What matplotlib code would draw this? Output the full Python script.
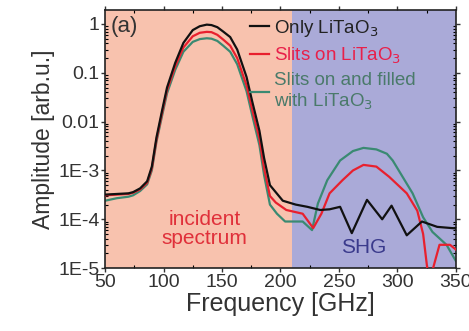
import numpy as np
import matplotlib.pyplot as plt
from matplotlib.ticker import FixedLocator, LogLocator, NullFormatter

plt.rcParams['font.family'] = ['Liberation Sans', 'DejaVu Sans']

# data
f_black = [50, 60, 70, 74, 80, 86, 90, 94, 99, 103, 110, 117, 125, 131, 137, 141, 146, 151, 157, 163,
           171, 176, 182, 186, 191, 202, 213, 223, 234, 242, 251, 261, 274, 287, 295, 308, 321, 334, 350]
a_black = [3.2e-4, 3.3e-4, 3.4e-4, 3.6e-4, 4.3e-4, 6e-4, 1.2e-3, 4.8e-3, 0.018, 0.05, 0.16, 0.41, 0.75,
           0.9, 0.97, 0.95, 0.86, 0.7, 0.54, 0.3, 0.082, 0.025, 0.0065, 1.8e-3, 5e-4, 2.4e-4, 2e-4,
           1.8e-4, 1.55e-4, 1.6e-4, 1.8e-4, 5.2e-5, 2.5e-4, 1e-4, 1.9e-4, 4.7e-5, 9e-5, 7e-5, 6.5e-5]

f_red = [50, 60, 70, 74, 80, 86, 90, 94, 99, 103, 110, 117, 125, 131, 137, 141, 146, 151, 157, 163,
         171, 176, 182, 186, 191, 196, 205, 219, 228, 235, 242, 253, 262, 271, 282, 293, 308, 317, 322,
         326, 330, 336, 345, 350]
a_red = [3.1e-4, 3.2e-4, 3.3e-4, 3.5e-4, 4.1e-4, 5.6e-4, 1.1e-3, 4.3e-3, 0.016, 0.044, 0.135, 0.33, 0.56,
         0.66, 0.69, 0.68, 0.6, 0.48, 0.36, 0.2, 0.055, 0.017, 0.0045, 1.1e-3, 3e-4, 2.2e-4, 1.55e-4,
         1.3e-4, 6.6e-5, 1.3e-4, 3.4e-4, 6.3e-4, 1e-3, 1.3e-3, 1.2e-3, 7.4e-4, 3.4e-4, 1.5e-4, 5e-5,
         8e-6, 9e-6, 3e-5, 3e-5, 2.4e-5]

f_green = [50, 60, 70, 74, 80, 86, 90, 94, 99, 103, 110, 117, 125, 131, 137, 141, 146, 151, 157, 163,
           171, 176, 182, 186, 191, 197, 204, 219, 227, 232, 240, 251, 262, 271, 282, 291, 296, 313, 322,
           330, 342, 350]
a_green = [2.4e-4, 2.7e-4, 2.9e-4, 3.1e-4, 3.8e-4, 5.2e-4, 1e-3, 3.9e-3, 0.014, 0.038, 0.115, 0.27, 0.43,
           0.49, 0.51, 0.5, 0.45, 0.36, 0.27, 0.15, 0.042, 0.013, 0.0033, 8e-4, 2e-4, 1.3e-4, 9e-5,
           9e-5, 6e-5, 2.1e-4, 6.3e-4, 1.6e-3, 2.5e-3, 2.9e-3, 2.7e-3, 2.2e-3, 1.6e-3, 3.4e-4, 1.1e-4,
           5.5e-5, 3e-5, 1.4e-5]

ytick_vals = [1, 0.1, 0.01, 1e-3, 1e-4, 1e-5]
ytick_labels = ['1', '0.1', '0.01', '1E-3', '1E-4', '1E-5']

fig = plt.figure(figsize=(4.69, 3.31), dpi=100)
ax = fig.add_axes([0.224, 0.19, 0.748, 0.78])

# shaded regions
ax.axvspan(50, 210, color='#f8c2ae', lw=0, zorder=0)
ax.axvspan(210, 350, color='#aaaad8', lw=0, zorder=0)

ax.plot(f_black, a_black, color='#111111', lw=1.6, label='Only LiTaO$_3$', zorder=4)
ax.plot(f_red, a_red, color='#e8202e', lw=1.6, label='Slits on LiTaO$_3$', zorder=3)
ax.plot(f_green, a_green, color='#3a8a72', lw=1.6, label='Slits on and filled\nwith LiTaO$_3$', zorder=2)

ax.set_yscale('log')
ax.set_xlim(50, 350)
ax.set_ylim(1e-5, 1.94)
ax.set_yticks(ytick_vals)
ax.set_yticklabels(ytick_labels)
ax.yaxis.set_minor_locator(LogLocator(base=10, subs=np.arange(2, 10)))
ax.yaxis.set_minor_formatter(NullFormatter())
ax.set_xticks([50, 100, 150, 200, 250, 300, 350])
ax.xaxis.set_minor_locator(FixedLocator([75, 125, 175, 225, 275, 325]))

ax.tick_params(which='major', direction='out', length=3, width=1, labelsize=14,
               colors='#333333', top=True, right=True, pad=1)
ax.tick_params(which='minor', direction='in', length=2, width=0.8, top=True, right=True)
for s in ax.spines.values():
    s.set_color('#222222')
    s.set_linewidth(1.2)

ax.set_xlabel('Frequency [GHz]', fontsize=18, color='#333333', labelpad=1)
ax.set_ylabel('Amplitude [arb.u.]', fontsize=16.5, color='#333333', labelpad=2)

ax.text(0.015, 0.975, '(a)', transform=ax.transAxes, fontsize=16, color='#333333', va='top')
ax.text(135, 6.3e-5, 'incident\nspectrum', color='#e0303a', fontsize=15, ha='center', va='center',
        linespacing=1.05)
ax.text(271, 2.6e-5, 'SHG', color='#3a3a8c', fontsize=15, ha='center', va='center')

leg = ax.legend(loc='upper left', bbox_to_anchor=(0.414, 0.97), frameon=False, fontsize=13.5,
                handlelength=1.0, handletextpad=0.25, labelspacing=0.35, borderaxespad=0,
                borderpad=0)
for txt, c in zip(leg.get_texts(), ['#222222', '#e8204a', '#4a7a6a']):
    txt.set_color(c)

fig.savefig('out.png', dpi=100)
